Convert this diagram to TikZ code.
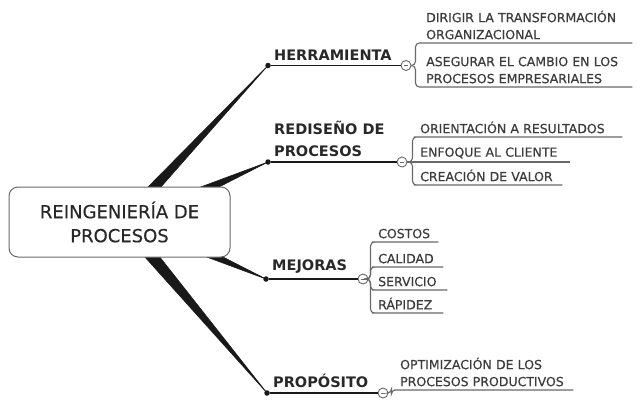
\documentclass[tikz,border=0pt]{standalone}
\usepackage{fontspec}
\setmainfont{DejaVu Sans}
\newfontfamily\hojafont[FakeBold=0.4]{DejaVu Sans}
\begin{document}
\begin{tikzpicture}[x=1pt,y=-1pt,
    centro/.style={draw=lineahoja, fill=white, line width=1pt, rounded corners=9pt,
      minimum width=221pt, minimum height=70pt, align=center, text=textotema,
      font=\hojafont\fontsize{18}{24}\selectfont},
    tema/.style={anchor=south west, inner xsep=6pt, inner ysep=5pt, text=textotema,
      align=left, font=\bfseries\fontsize{14.5}{22}\selectfont},
    hoja/.style={anchor=south west, inner xsep=2pt, inner ysep=3.5pt, text=textohoja,
      align=left, font=\hojafont\fontsize{12.5}{17}\selectfont},
    punto/.style={circle, fill=lineatema, inner sep=0pt, minimum size=5.5pt},
    nudo/.style={circle, draw=lineahoja, fill=white, line width=0.9pt, inner sep=0pt,
      minimum size=10pt, path picture={\draw[lineahoja, line width=0.7pt]
        ([xshift=-2pt]path picture bounding box.center) --
        ([xshift=2pt]path picture bounding box.center);}},
    rama/.style={draw=lineatema, line width=1.4pt},
    subrama/.style={draw=lineahoja, line width=1.1pt, rounded corners=4pt},
    cuna/.style={fill=lineatema, draw=lineatema, line width=0.6pt, line join=round}]

  % Definir los colores del esquema
  \definecolor{textotema}{RGB}{40,40,40}
  \definecolor{textohoja}{RGB}{60,60,60}
  \definecolor{lineatema}{RGB}{25,25,25}
  \definecolor{lineahoja}{RGB}{105,105,105}

  \useasboundingbox (0,0) rectangle (640,407);

  % Puntos de partida de las ramas
  \node[punto] (pHer) at (268,65.5) {};
  \node[punto] (pRed) at (268,162) {};
  \node[punto] (pMej) at (266,279) {};
  \node[punto] (pPro) at (267,393) {};

  % Dibujar las cuñas desde el nodo central
  \coordinate (bHer1) at (147,188);
  \coordinate (bHer2) at (160,188);
  \coordinate (bRed1) at (198,188);
  \coordinate (bRed2) at (217,188);
  \coordinate (bMej1) at (204,256);
  \coordinate (bMej2) at (221,256);
  \coordinate (bPro1) at (144,256);
  \coordinate (bPro2) at (159,256);
  \filldraw[cuna] (bHer1) -- (bHer2) -- (pHer.center) -- cycle;
  \filldraw[cuna] (bRed1) -- (bRed2) -- (pRed.center) -- cycle;
  \filldraw[cuna] (bMej1) -- (bMej2) -- (pMej.center) -- cycle;
  \filldraw[cuna] (bPro1) -- (bPro2) -- (pPro.center) -- cycle;

  % Nodo central
  \node[centro] (reing) at (119.5,222) {REINGENIERÍA DE\\PROCESOS};

  % Temas principales
  \node[tema] (tHer) at (pHer.center) {HERRAMIENTA};
  \node[tema] (tRed) at (pRed.center) {REDISEÑO DE\\PROCESOS};
  \node[tema] (tMej) at (pMej.center) {MEJORAS};
  \node[tema] (tPro) at (pPro.center) {PROPÓSITO};

  \node[nudo] (cHer) at (406,65.5) {};
  \node[nudo] (cRed) at (402,162) {};
  \node[nudo] (cMej) at (363,279) {};
  \node[nudo] (cPro) at (383,393) {};

  \draw[rama] (pHer) -- (cHer);
  \draw[rama] (pRed) -- (cRed);
  \draw[rama] (pMej) -- (cMej);
  \draw[rama] (pPro) -- (cPro);

  % Hojas de HERRAMIENTA
  \node[hoja, text width=204pt] (hDir) at (424,43) {DIRIGIR LA TRANSFORMACIÓN\\ORGANIZACIONAL};
  \node[hoja, text width=204pt] (hAse) at (424,87) {ASEGURAR EL CAMBIO EN LOS\\PROCESOS EMPRESARIALES};
  \draw[subrama] (cHer.east) -- ++(4,0) |- (hDir.south west) -- (hDir.south east);
  \draw[subrama] (cHer.east) -- ++(4,0) |- (hAse.south west) -- (hAse.south east);

  % Hojas de REDISEÑO DE PROCESOS
  \node[hoja, text width=200pt] (hOri) at (418,137) {ORIENTACIÓN A RESULTADOS};
  \node[hoja, text width=148pt] (hEnf) at (418,162) {ENFOQUE AL CLIENTE};
  \node[hoja, text width=140pt] (hCre) at (418,185) {CREACIÓN DE VALOR};
  \draw[subrama] (cRed.east) -- ++(5,0) |- (hOri.south west) -- (hOri.south east);
  \draw[subrama] (cRed.east) -- (hEnf.south east);
  \draw[subrama] (cRed.east) -- ++(5,0) |- (hCre.south west) -- (hCre.south east);

  % Hojas de MEJORAS
  \node[hoja, text width=58pt] (hCos) at (376,242) {COSTOS};
  \node[hoja, text width=63pt] (hCal) at (376,267) {CALIDAD};
  \node[hoja, text width=67pt] (hSer) at (376,290) {SERVICIO};
  \node[hoja, text width=63pt] (hRap) at (376,313) {RÁPIDEZ};
  \draw[subrama] (cMej.east) -- ++(2,0) |- (hCos.south west) -- (hCos.south east);
  \draw[subrama] (cMej.east) -- ++(2,0) |- (hCal.south west) -- (hCal.south east);
  \draw[subrama] (cMej.east) -- ++(2,0) |- (hSer.south west) -- (hSer.south east);
  \draw[subrama] (cMej.east) -- ++(2,0) |- (hRap.south west) -- (hRap.south east);

  % Hoja de PROPÓSITO
  \node[hoja, text width=171pt] (hOpt) at (398,390) {OPTIMIZACIÓN DE LOS\\PROCESOS PRODUCTIVOS};
  \draw[subrama] (cPro.east) -- ++(3,0) |- (hOpt.south west) -- (hOpt.south east);
\end{tikzpicture}
\end{document}
